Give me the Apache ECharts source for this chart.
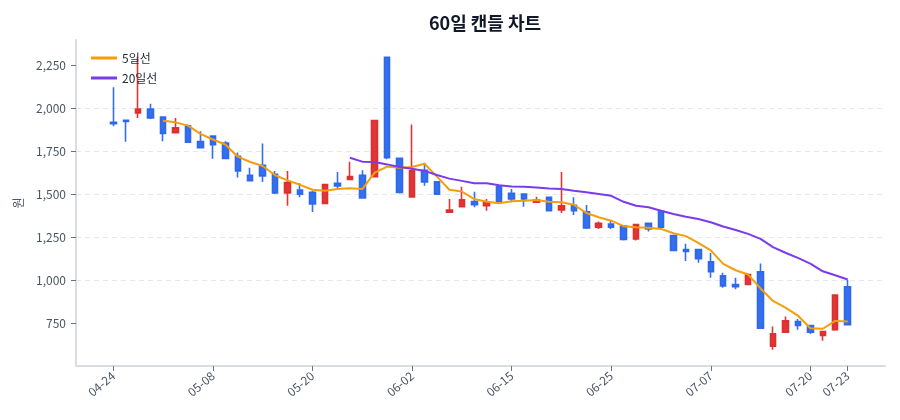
<!DOCTYPE html>
<html>
<head>
<meta charset="utf-8">
<title>60일 캔들 차트</title>
<script src="https://cdn.jsdelivr.net/npm/echarts@6/dist/echarts.min.js"></script>
<style>
html,body{margin:0;padding:0;background:#fff;}
#chart{width:900px;height:420px;}
</style>
</head>
<body>
<div id="chart"></div>
<script>
// 거래일 (60일)
var dates = ['04-24','04-27','04-28','04-29','04-30','05-04','05-06','05-07','05-08','05-11',
  '05-12','05-13','05-14','05-15','05-18','05-19','05-20','05-21','05-22','05-26',
  '05-27','05-28','05-29','06-01','06-02','06-04','06-05','06-08','06-09','06-10',
  '06-11','06-12','06-15','06-16','06-17','06-18','06-19','06-22','06-23','06-24',
  '06-25','06-26','06-29','06-30','07-01','07-02','07-03','07-06','07-07','07-08',
  '07-09','07-10','07-13','07-14','07-15','07-16','07-20','07-21','07-22','07-23'];

var opens = [1920,1932,1975,1998,1951,1860,1900,1808,1840,1800,
  1722,1612,1670,1617,1508,1525,1512,1448,1565,1587,
  1612,1604,2299,1710,1485,1641,1573,1396,1428,1459,
  1434,1544,1506,1502,1454,1483,1409,1437,1399,1309,
  1328,1315,1241,1332,1402,1260,1179,1179,1107,1025,
  975,975,1049,615,697,759,736,678,711,962];
var closes = [1912,1925,1998,1946,1855,1888,1805,1772,1790,1710,
  1637,1580,1608,1508,1569,1502,1444,1558,1550,1604,
  1480,1930,1714,1512,1637,1573,1502,1409,1469,1440,
  1454,1457,1473,1473,1467,1405,1434,1405,1304,1332,
  1309,1237,1324,1299,1309,1174,1168,1126,1049,967,
  962,1033,720,687,763,736,697,701,913,740];
var lows = [1897,1807,1945,1940,1810,1858,1800,1768,1708,1705,
  1598,1577,1573,1502,1434,1483,1398,1446,1535,1585,
  1478,1600,1705,1505,1483,1550,1500,1394,1428,1425,
  1405,1455,1454,1428,1452,1403,1392,1380,1299,1299,
  1299,1231,1231,1284,1303,1172,1112,1102,1014,956,
  948,973,717,595,697,711,686,647,705,738];
var highs = [2125,1935,2302,2028,1955,1946,1908,1868,1845,1810,
  1745,1656,1797,1637,1637,1565,1522,1560,1631,1691,
  1641,1932,2300,1712,1907,1685,1575,1473,1544,1515,
  1473,1546,1531,1506,1486,1485,1631,1483,1438,1342,
  1351,1317,1328,1335,1411,1262,1212,1183,1159,1043,
  1014,1039,1097,730,788,774,740,705,916,1002];

var ma5 = [null,null,null,null,1930,1920,1901,1853,1820,1791,
  1720,1689,1666,1612,1582,1556,1527,1521,1531,1536,
  1531,1627,1662,1656,1660,1679,1604,1527,1517,1473,
  1457,1448,1460,1463,1467,1457,1454,1440,1392,1367,
  1347,1315,1309,1306,1299,1274,1257,1218,1174,1095,
  1058,1033,952,879,840,794,720,717,763,759];
var ma20 = [null,null,null,null,null,null,null,null,null,null,
  null,null,null,null,null,null,null,null,null,1714,
  1691,1689,1675,1660,1650,1637,1613,1592,1579,1565,
  1565,1554,1546,1544,1540,1535,1531,1521,1512,1502,
  1492,1457,1434,1425,1405,1386,1370,1357,1338,1313,
  1293,1270,1241,1193,1160,1130,1097,1052,1029,1004];

var yTicks = [750,1000,1250,1500,1750,2000,2250];

var UP = '#dc2626', DOWN = '#2563eb';
var PAD = 3; // 양쪽 여백 카테고리
var n = dates.length;

var cats = [], kdata = [], m5 = [], m20 = [];
for (var p = 0; p < PAD; p++) { cats.push(''); kdata.push('-'); m5.push('-'); m20.push('-'); }
for (var i = 0; i < n; i++) {
  cats.push(dates[i]);
  kdata.push([opens[i], closes[i], lows[i], highs[i]]);
  m5.push(ma5[i] == null ? '-' : ma5[i]);
  m20.push(ma20[i] == null ? '-' : ma20[i]);
}
for (var p = 0; p < PAD; p++) { cats.push(''); kdata.push('-'); m5.push('-'); m20.push('-'); }

function showTick(index) {
  var k = index - PAD;
  return k >= 0 && k < n && (k % 8 === 0 || k === n - 1);
}

var chart = echarts.init(document.getElementById('chart'));
chart.setOption({
  animation: false,
  textStyle: { fontFamily: '"Noto Sans CJK KR", "Noto Sans", sans-serif' },
  title: {
    text: '60일 캔들 차트',
    left: 480, top: 9, textAlign: 'center',
    textStyle: { fontSize: 18, fontWeight: 'bold', color: '#111827' }
  },
  legend: {
    orient: 'vertical', left: 86, top: 47,
    itemWidth: 26, itemHeight: 3, itemGap: 8,
    icon: 'rect',
    textStyle: { fontSize: 12, color: '#1f2937' },
    data: ['5일선', '20일선']
  },
  grid: { left: 76, right: 15, top: 40, bottom: 54 },
  xAxis: {
    type: 'category',
    data: cats,
    boundaryGap: false,
    axisLine: { lineStyle: { color: '#d9dde3', width: 2 } },
    axisTick: { interval: showTick, length: 5, lineStyle: { color: '#6b7280' } },
    axisLabel: { interval: showTick, rotate: 40, fontSize: 12, color: '#4b5563', margin: 8 },
    splitLine: { show: false }
  },
  yAxis: {
    type: 'value',
    min: 500, max: 2400, interval: 250,
    name: '원', nameLocation: 'middle', nameGap: 52,
    nameTextStyle: { fontSize: 12, color: '#4b5563' },
    axisLine: { show: true, lineStyle: { color: '#d9dde3', width: 2 } },
    axisTick: { show: true, length: 5, customValues: yTicks, lineStyle: { color: '#6b7280' } },
    axisLabel: {
      customValues: yTicks, fontSize: 12, color: '#4b5563', margin: 10,
      formatter: function (v) { return v.toLocaleString('en-US'); }
    },
    splitLine: { show: true, showMinLine: false, showMaxLine: false,
      lineStyle: { color: '#e5e7eb', type: [5, 4] } }
  },
  series: [
    {
      name: '캔들', type: 'candlestick', data: kdata, barWidth: 6,
      itemStyle: {
        color: UP, color0: DOWN, borderColor: UP, borderColor0: DOWN,
        borderWidth: 1.6, opacity: 0.92
      }
    },
    {
      name: '5일선', type: 'line', data: m5, symbol: 'none', z: 3,
      itemStyle: { color: '#f59e0b' },
      lineStyle: { color: '#f59e0b', width: 2 }
    },
    {
      name: '20일선', type: 'line', data: m20, symbol: 'none', z: 3,
      itemStyle: { color: '#7c3aed' },
      lineStyle: { color: '#7c3aed', width: 2 }
    }
  ]
});
</script>
</body>
</html>
